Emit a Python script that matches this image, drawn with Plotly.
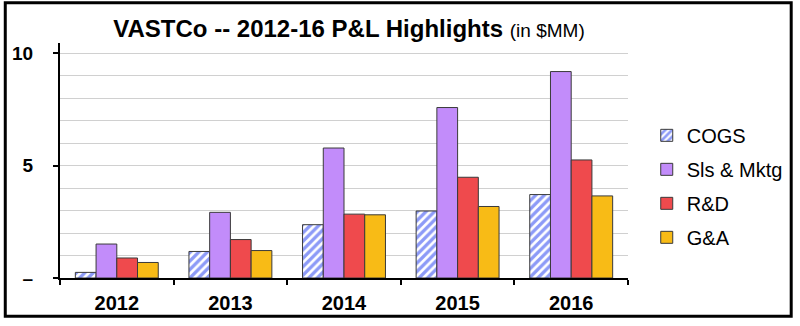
import plotly.graph_objects as go

years = ["2012", "2013", "2014", "2015", "2016"]
cogs = [0.25, 1.18, 2.37, 2.98, 3.71]
sls_mktg = [1.51, 2.92, 5.78, 7.58, 9.18]
rnd = [0.89, 1.71, 2.84, 4.48, 5.25]
gna = [0.69, 1.22, 2.81, 3.18, 3.65]

ytick_vals = [0, 5, 10]
ytick_text = ["–", "5", "10"]

W, H = 800, 326
ML, MR, MT, MB = 57, 167, 43, 41
FONT = "Arial, Liberation Sans, sans-serif"
EDGE = dict(color="#3a3a3a", width=1)

fig = go.Figure()
fig.add_trace(go.Bar(
    x=years, y=cogs, name="COGS", legendgroup="a",
    marker=dict(color="white", line=EDGE,
                pattern=dict(shape="/", fgcolor="#1a35f0", bgcolor="white",
                             size=6, solidity=0.55)),
))
fig.add_trace(go.Bar(x=years, y=sls_mktg, name="Sls & Mktg", legendgroup="b",
                     marker=dict(color="#c28cfa", line=EDGE)))
fig.add_trace(go.Bar(x=years, y=rnd, name="R&D", legendgroup="c",
                     marker=dict(color="#ef4a4d", line=EDGE)))
fig.add_trace(go.Bar(x=years, y=gna, name="G&A", legendgroup="d",
                     marker=dict(color="#f8bb16", line=EDGE)))

plot_w = W - ML - MR
plot_h = H - MT - MB
pad = 1.5
fig.add_shape(type="rect", xref="paper", yref="paper",
              x0=-(ML - pad) / plot_w, x1=1 + (MR - pad) / plot_w,
              y0=-(MB - pad) / plot_h, y1=1 + (MT - pad) / plot_h,
              line=dict(color="black", width=3), layer="above")

fig.update_layout(
    width=W, height=H,
    margin=dict(l=ML, r=MR, t=MT, b=MB, pad=0),
    paper_bgcolor="white", plot_bgcolor="white",
    barmode="group", bargap=0.27, bargroupgap=0,
    font=dict(family=FONT, size=20, color="black"),
    title=dict(
        text="<b>VASTCo -- 2012-16 P&L Highlights</b> <span style='font-size:19px'>(in $MM)</span>",
        font=dict(family=FONT, size=24, color="black"),
        x=349 / W, xanchor="center", xref="container",
        y=1 - 29 / H, yanchor="middle", yref="container",
    ),
    legend=dict(
        x=(652 - ML) / plot_w, xanchor="left",
        y=(H - MB - 118) / plot_h, yanchor="top",
        font=dict(family=FONT, size=20, color="black"),
        tracegroupgap=5, bgcolor="rgba(0,0,0,0)",
    ),
    xaxis=dict(
        type="category", showline=True, linecolor="black", linewidth=2,
        ticks="outside", tickson="boundaries", ticklen=5, tickwidth=2, tickcolor="black",
        tickfont=dict(family=FONT, size=20, color="black", weight="bold"),
        ticklabelstandoff=6, showgrid=False,
    ),
    yaxis=dict(
        range=[0, 10.45], showline=True, linecolor="black", linewidth=2,
        tickvals=ytick_vals, ticktext=ytick_text,
        ticks="outside", ticklen=5, tickwidth=2, tickcolor="black",
        tickfont=dict(family=FONT, size=19, color="black", weight="bold"),
        ticklabelstandoff=16,
        showgrid=True, gridcolor="#d0d0d0", gridwidth=1,
        minor=dict(dtick=1, tick0=0, showgrid=True, gridcolor="#d0d0d0", gridwidth=1, ticks=""),
        zeroline=False,
    ),
)

fig.write_html("out.html")
